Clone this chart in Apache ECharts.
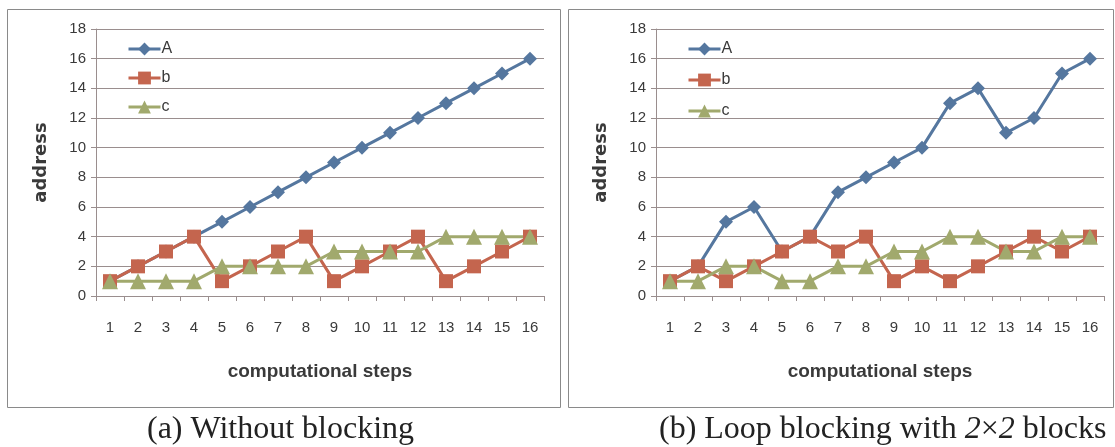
<!DOCTYPE html>
<html><head><meta charset="utf-8">
<script src="https://cdn.jsdelivr.net/npm/echarts@6/dist/echarts.min.js"></script>
<style>html,body{margin:0;padding:0;background:#fff}#c{width:1115px;height:447px}</style>
</head><body><div id="c"></div>
<script>
const steps = ['1','2','3','4','5','6','7','8','9','10','11','12','13','14','15','16'];
const A1 = [1,2,3,4,5,6,7,8,9,10,11,12,13,14,15,16];
const b1 = [1,2,3,4,1,2,3,4,1,2,3,4,1,2,3,4];
const c1 = [1,1,1,1,2,2,2,2,3,3,3,3,4,4,4,4];
const A2 = [1,2,5,6,3,4,7,8,9,10,13,14,11,12,15,16];
const b2 = [1,2,1,2,3,4,3,4,1,2,1,2,3,4,3,4];
const c2 = [1,1,2,2,1,1,2,2,3,3,4,4,3,3,4,4];
const yTicks = {min:0, max:18, interval:2};

const COL = {A:'#55779f', b:'#c4654e', c:'#a1a96d'};
const GRID = '#9a8e8e';
const TXT = '#3a3a3a';
const tickFont = '"Liberation Sans",sans-serif';

function xAx(i){return {type:'category', gridIndex:i, data:steps, boundaryGap:true,
  axisLine:{lineStyle:{color:GRID,width:1}}, axisTick:{show:true,length:5,lineStyle:{color:GRID}},
  axisLabel:{color:TXT,fontSize:15,margin:24,fontFamily:tickFont},
  name:'computational steps', nameLocation:'middle', nameGap:66,
  nameTextStyle:{fontSize:19,fontWeight:'bold',color:TXT,fontFamily:tickFont}};}
function yAx(i){return {type:'value', gridIndex:i, min:yTicks.min, max:yTicks.max, interval:yTicks.interval,
  axisLine:{show:true,lineStyle:{color:GRID,width:1}}, axisTick:{show:true,length:5,lineStyle:{color:GRID}},
  splitLine:{lineStyle:{color:GRID,width:1}},
  axisLabel:{color:TXT,fontSize:15,margin:10,fontFamily:tickFont},
  name:'address', nameLocation:'middle', nameGap:46, nameRotate:90,
  nameTextStyle:{fontSize:18,fontWeight:'bold',color:TXT,fontFamily:'"DejaVu Sans",sans-serif'}};}
function ser(name,data,i,sym,size){return {name, type:'line', xAxisIndex:i, yAxisIndex:i, data,
  symbol:sym, symbolSize:size, lineStyle:{width:3,color:COL[name]}, itemStyle:{color:COL[name]}, color:COL[name], animation:false};}
function leg(left,top,gap){return {orient:'vertical', left, top, itemWidth:32, itemHeight:16, itemGap:gap,
  lineStyle:{width:3}, textStyle:{color:TXT,fontSize:16,padding:[0,0,0,-4],fontFamily:tickFont}, data:['A','b','c'], selectedMode:false};}

const chart = echarts.init(document.getElementById('c'));
chart.setOption({
  animation:false,
  grid:[{left:96,top:29,width:448,height:267},{left:656,top:29,width:448,height:267}],
  xAxis:[xAx(0),xAx(1)], yAxis:[yAx(0),yAx(1)],
  legend:[leg(122,36,13),leg(682,36,15)],
  series:[
    ser('A',A1,0,'diamond',14), ser('b',b1,0,'rect',14), ser('c',c1,0,'triangle',16),
    ser('A',A2,1,'diamond',14), ser('b',b2,1,'rect',14), ser('c',c2,1,'triangle',16)
  ],
  graphic:[
    {type:'rect', shape:{x:7.5,y:9.5,width:553,height:398}, style:{fill:null,stroke:'#8a8a8a',lineWidth:1}, silent:true, z:-1},
    {type:'rect', shape:{x:568.5,y:9.5,width:545,height:398}, style:{fill:null,stroke:'#8a8a8a',lineWidth:1}, silent:true, z:-1},
    {type:'text', left:147, top:414, style:{text:'(a) Without blocking', font:'32px "Liberation Serif",serif', fill:'#222'}},
    {type:'text', left:659, top:414, style:{text:'{n|(b) Loop blocking with }{i|2}{n|×}{i|2}{n| blocks}',
      rich:{n:{font:'32px "Liberation Serif",serif',fill:'#222'}, i:{font:'italic 32px "Liberation Serif",serif',fill:'#222'}}}}
  ]
});
</script></body></html>
